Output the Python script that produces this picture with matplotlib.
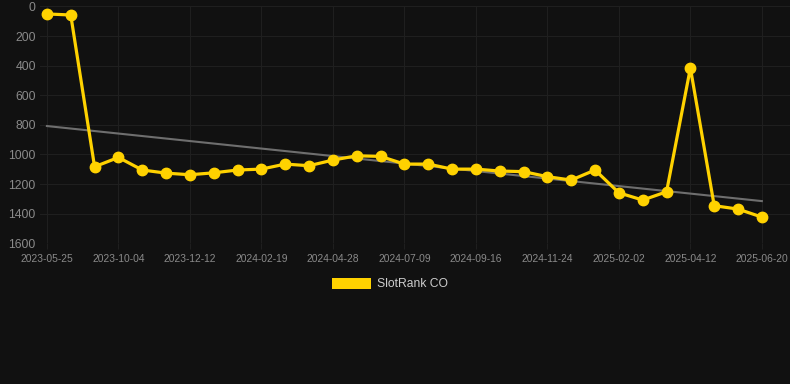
"""SlotRank CO 排名走势图。"""

import matplotlib.pyplot as plt
import numpy as np
from matplotlib.patches import Patch

# 每个数据点的日期（只在每 3 个点上标注）
tick_labels = [
    "2023-05-25", "2023-10-04", "2023-12-12", "2024-02-19", "2024-04-28", "2024-07-09",
    "2024-09-16", "2024-11-24", "2025-02-02", "2025-04-12", "2025-06-20",
]
ranks = [
    51, 58, 1083, 1020, 1105, 1126, 1137, 1124, 1105, 1099,
    1065, 1076, 1038, 1009, 1013, 1065, 1065, 1099, 1099, 1112,
    1116, 1150, 1173, 1105, 1259, 1308, 1252, 416, 1346, 1369, 1423,
]
trend_ends = [808, 1315]

BG = "#111111"
GOLD = "#FFD200"
TEXT = "#8a8a8a"

plt.rcParams["font.family"] = ["Liberation Sans", "DejaVu Sans"]

fig = plt.figure(figsize=(7.9, 3.84), dpi=100, facecolor=BG)
ax = fig.add_axes([40 / 790, 1 - 243.3 / 384, 750 / 790, (243.3 - 6.4) / 384])
ax.set_facecolor(BG)

x = np.arange(len(ranks))
ax.plot([x[0], x[-1]], trend_ends, color="#6e6e6e", lw=1.5, zorder=2)
ax.plot(x, ranks, color=GOLD, lw=2.3, marker="o", markersize=7.5, zorder=3)

ax.set_xlim(-0.29, 31.18)
ax.set_ylim(1600, 0)
ax.set_yticks(np.arange(0, 1601, 200))
ax.set_xticks(x[::3])
ax.set_xticklabels(tick_labels)

ax.grid(True, color="#1f1f1f", lw=0.8)
for spine in ax.spines.values():
    spine.set_visible(False)
ax.tick_params(axis="y", length=0, pad=3, labelsize=8.8, labelcolor=TEXT)
ax.tick_params(axis="x", length=4, color="#1f1f1f", pad=3.5, labelsize=7.4, labelcolor=TEXT)

fig.legend(
    handles=[Patch(facecolor=GOLD, label="SlotRank CO")],
    loc="center", bbox_to_anchor=(390 / 790, 1 - 284 / 384), frameon=False,
    handlelength=3.3, handleheight=1.1, handletextpad=0.5,
    fontsize=8.7, labelcolor="#cccccc",
)

fig.savefig("out.png", dpi=100, facecolor=BG)
